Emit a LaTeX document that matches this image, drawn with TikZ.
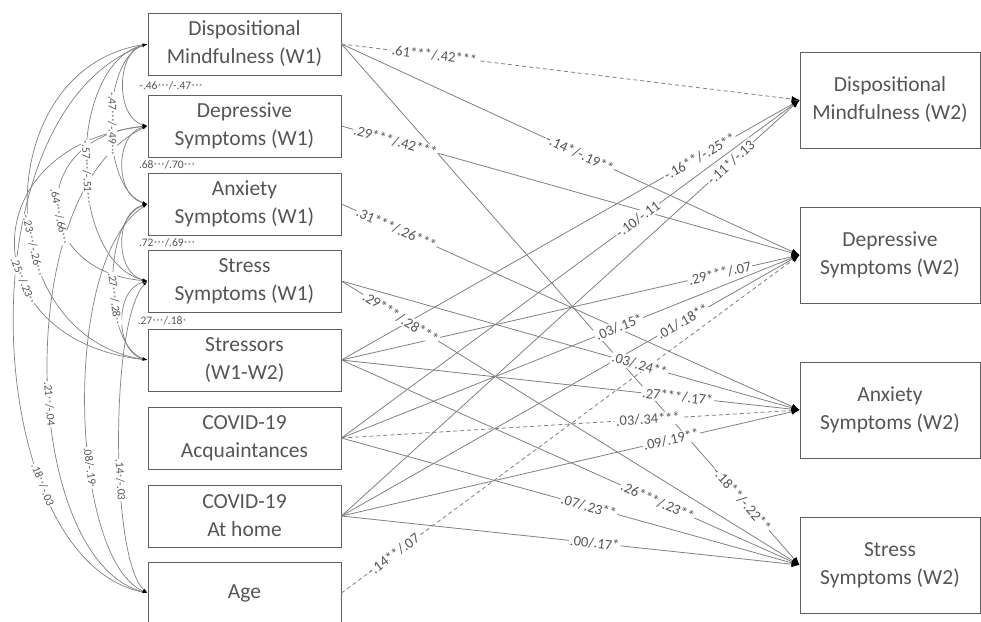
\documentclass[tikz,border=0pt]{standalone}
\usepackage{fontspec}
\setmainfont{Carlito}
\usetikzlibrary{arrows.meta}
\definecolor{lc}{RGB}{128,128,128}
\definecolor{bc}{RGB}{96,96,96}
\definecolor{tc}{RGB}{85,85,85}
\newcommand\astr[1]{{\fontsize{7.5}{8}\selectfont#1}}
\begin{document}
\begin{tikzpicture}[x=1pt,y=-1pt,
  box/.style={draw=bc, line width=0.9pt, text=tc, font=\fontsize{21.5}{28}\selectfont, align=center, minimum width=193pt, minimum height=62pt, inner sep=0pt},
  rbox/.style={box, minimum width=180pt, minimum height=96pt},
  pl/.style={draw=lc, line width=0.8pt, -{Latex[length=8pt,width=6pt,color=black]}},
  dsh/.style={dash pattern=on 4pt off 3pt},
  lab/.style={fill=white, inner sep=1pt, text=tc, font=\fontsize{14.5}{15}\selectfont},
  cov/.style={draw=lc, line width=0.7pt, {Latex[length=5pt,width=2.5pt,color=black]}-{Latex[length=5pt,width=2.5pt,color=black]}},
  clab/.style={fill=white, inner sep=0.6pt, text=tc, font=\fontsize{11.5}{12}\selectfont}]
\useasboundingbox (0,0) rectangle (981,621);
\clip (0,0) rectangle (981,621);
% left boxes
\node[box] (dm1) at (244.5,44) {Dispositional\\Mindfulness (W1)};
\node[box] (dep1) at (244.5,126) {Depressive\\Symptoms (W1)};
\node[box] (anx1) at (244.5,204) {Anxiety\\Symptoms (W1)};
\node[box] (str1) at (244.5,281) {Stress\\Symptoms (W1)};
\node[box] (sts) at (244.5,360) {Stressors\\(W1-W2)};
\node[box] (acq) at (244.5,438) {COVID-19\\Acquaintances};
\node[box] (home) at (244.5,516) {COVID-19\\At home};
\node[box] (age) at (244.5,593) {Age};
% right boxes
\node[rbox] (dm2) at (890,100) {Dispositional\\Mindfulness (W2)};
\node[rbox] (dep2) at (890,255) {Depressive\\Symptoms (W2)};
\node[rbox] (anx2) at (890,410) {Anxiety\\Symptoms (W2)};
\node[rbox] (str2) at (890,565) {Stress\\Symptoms (W2)};
% paths
\draw[pl,dsh] (dm1.east) -- (dm2.west);
\draw[pl] (dm1.east) -- (dep2.west);
\draw[pl] (dm1.east) -- (str2.west);
\draw[pl] (dep1.east) -- (dep2.west);
\draw[pl] (anx1.east) -- (anx2.west);
\draw[pl] (str1.east) -- (anx2.west);
\draw[pl] (str1.east) -- (str2.west);
\draw[pl] (sts.east) -- (dm2.west);
\draw[pl] (sts.east) -- (dep2.west);
\draw[pl] (sts.east) -- (anx2.west);
\draw[pl] (sts.east) -- (str2.west);
\draw[pl] (acq.east) -- (dm2.west);
\draw[pl] (acq.east) -- (dep2.west);
\draw[pl,dsh] (acq.east) -- (anx2.west);
\draw[pl] (acq.east) -- (str2.west);
\draw[pl] (home.east) -- (dm2.west);
\draw[pl] (home.east) -- (dep2.west);
\draw[pl] (home.east) -- (anx2.west);
\draw[pl] (home.east) -- (str2.west);
\draw[pl,dsh] (age.east) -- (dep2.west);
% covariances
\draw[cov] (dm1.west) .. controls +(-32,8) and +(-32,-8) .. (dep1.west);
\draw[cov] (dep1.west) .. controls +(-33,8) and +(-33,-8) .. (anx1.west);
\draw[cov] (anx1.west) .. controls +(-33,8) and +(-33,-8) .. (str1.west);
\draw[cov] (str1.west) .. controls +(-33,8) and +(-33,-8) .. (sts.west);
\draw[cov] (dm1.west) .. controls +(-47,15) and +(-47,-15) .. (anx1.west);
\draw[cov] (dm1.west) .. controls +(-81,20) and +(-81,-20) .. (str1.west);
\draw[cov] (dep1.west) .. controls +(-119,10) and +(-119,-10) .. (str1.west);
\draw[cov] (dm1.west) .. controls +(-159,25) and +(-159,-25) .. (sts.west);
\draw[cov] (dep1.west) .. controls +(-176,20) and +(-176,-20) .. (sts.west);
\draw[cov] (anx1.west) .. controls +(-45,15) and +(-45,-15) .. (sts.west);
\draw[cov] (dm1.west) .. controls (-40,110) and (-20,560) .. (age.west);
\draw[cov] (dep1.west) .. controls (10,190) and (20,560) .. (age.west);
\draw[cov] (anx1.west) .. controls (60,260) and (70,560) .. (age.west);
\draw[cov] (str1.west) .. controls (110,320) and (110,560) .. (age.west);
% path labels
\path (dm1.east) -- (dm2.west) node[lab,pos=0.203,sloped] (p1) {.61***/.42***};
\path (dm1.east) -- (dep2.west) node[lab,pos=0.52,sloped] (p2) {-.14*/-.19**};
\path (dm1.east) -- (str2.west) node[lab,pos=0.874,sloped] (p3) {-.18**/-.22**};
\path (dep1.east) -- (dep2.west) node[lab,pos=0.118,sloped] (p4) {.29***/.42***};
\path (anx1.east) -- (anx2.west) node[lab,pos=0.12,sloped] (p5) {.31***/.26***};
\path (str1.east) -- (anx2.west) node[lab,pos=0.651,sloped] (p6) {.03/.24**};
\path (str1.east) -- (str2.west) node[lab,pos=0.129,sloped] (p7) {.29***/.28***};
\path (sts.east) -- (dm2.west) node[lab,pos=0.782,sloped] (p8) {-.16**/-.25**};
\path (sts.east) -- (dep2.west) node[lab,pos=0.826,sloped] (p9) {.29***/.07};
\path (sts.east) -- (anx2.west) node[lab,pos=0.734,sloped] (p10) {.27***/.17*};
\path (sts.east) -- (str2.west) node[lab,pos=0.69,sloped] (p11) {.26***/.23**};
\path (acq.east) -- (dm2.west) node[lab,pos=0.647,sloped] (p12) {-.10/-.11};
\path (acq.east) -- (dep2.west) node[lab,pos=0.606,sloped] (p13) {.03/.15*};
\path (acq.east) -- (anx2.west) node[lab,pos=0.669,sloped] (p14) {.03/.34***};
\path (acq.east) -- (str2.west) node[lab,pos=0.54,sloped] (p15) {.07/.23**};
\path (home.east) -- (dm2.west) node[lab,pos=0.85,sloped] (p16) {-.11*/-.13};
\path (home.east) -- (dep2.west) node[lab,pos=0.745,sloped] (p17) {.01/.18**};
\path (home.east) -- (anx2.west) node[lab,pos=0.72,sloped] (p18) {.09/.19**};
\path (home.east) -- (str2.west) node[lab,pos=0.553,sloped] (p19) {.00/.17*};
\path (age.east) -- (dep2.west) node[lab,pos=0.113,sloped] (p20) {-.14**/.07};
% covariance labels
\node[clab] (c1) at (171,86) {-.46\astr{***}/-.47\astr{***}};
\node[clab] (c2) at (167,165) {.68\astr{***}/.70\astr{***}};
\node[clab] (c3) at (167,243) {.72\astr{***}/.69\astr{***}};
\node[clab] (c4) at (162,321) {.27\astr{***}/.18\astr{*}};
\path (dm1.west) .. controls +(-47,15) and +(-47,-15) .. (anx1.west) node[clab,pos=0.5,sloped,allow upside down] (c5) {-.47\astr{***}/-.49\astr{***}};
\path (dm1.west) .. controls +(-81,20) and +(-81,-20) .. (str1.west) node[clab,pos=0.53,sloped,allow upside down] (c6) {-.57\astr{***}/-.51\astr{***}};
\path (dep1.west) .. controls +(-119,10) and +(-119,-10) .. (str1.west) node[clab,pos=0.56,sloped,allow upside down] (c7) {.64\astr{***}/.66\astr{***}};
\path (dm1.west) .. controls +(-159,25) and +(-159,-25) .. (sts.west) node[clab,pos=0.6,sloped,allow upside down] (c8) {-.23\astr{***}/-.26\astr{***}};
\path (dep1.west) .. controls +(-176,20) and +(-176,-20) .. (sts.west) node[clab,pos=0.62,sloped,allow upside down] (c9) {.25\astr{**}/.23\astr{**}};
\path (anx1.west) .. controls +(-45,15) and +(-45,-15) .. (sts.west) node[clab,pos=0.58,sloped,allow upside down] (c10) {.27\astr{***}/.28\astr{**}};
\path (dm1.west) .. controls (-40,110) and (-20,560) .. (age.west) node[clab,pos=0.72,sloped,allow upside down] (c11) {.18\astr{**}/-.03};
\path (dep1.west) .. controls (10,190) and (20,560) .. (age.west) node[clab,pos=0.55,sloped,allow upside down] (c12) {-.21\astr{**}/-.04};
\path (anx1.west) .. controls (60,260) and (70,560) .. (age.west) node[clab,pos=0.62,sloped,allow upside down] (c13) {.08/-.19\astr{*}};
\path (str1.west) .. controls (110,320) and (110,560) .. (age.west) node[clab,pos=0.6,sloped,allow upside down] (c14) {.14\astr{*}/-.03};
\end{tikzpicture}
\end{document}
